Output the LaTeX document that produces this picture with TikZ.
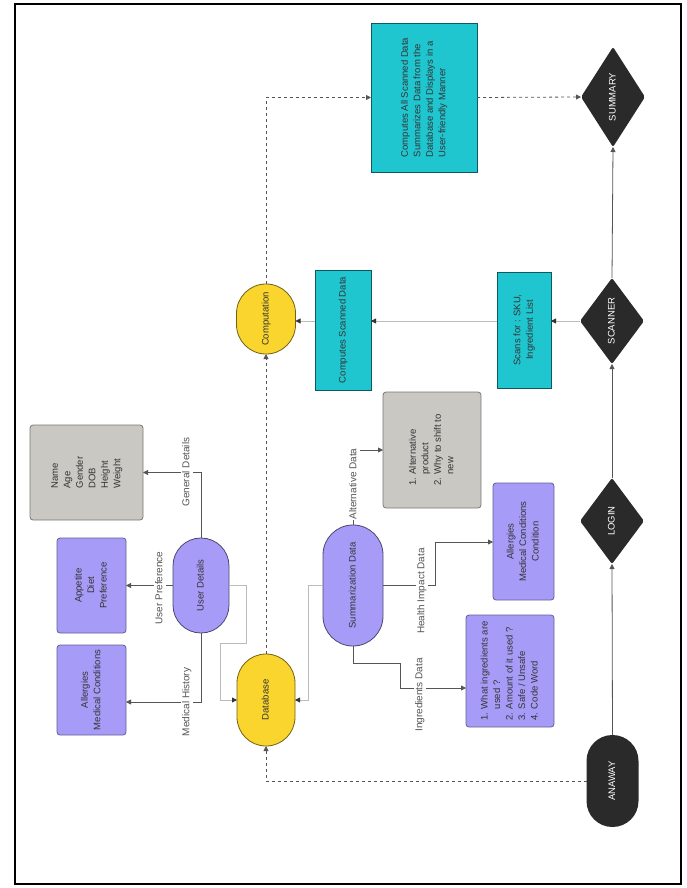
\documentclass[tikz,border=0pt]{standalone}
\usepackage{fontspec}
\setmainfont{Liberation Sans}
\usetikzlibrary{shapes.geometric,arrows.meta}
\definecolor{ylw}{HTML}{FAD52E}
\definecolor{prp}{HTML}{A69CF8}
\definecolor{cyn}{HTML}{1FC6CF}
\definecolor{gry}{HTML}{C9C8C3}
\definecolor{blk}{HTML}{2A2A2A}
\definecolor{txt}{HTML}{333333}
\definecolor{lnk}{HTML}{555555}
\definecolor{lgt}{HTML}{BBBBBB}
\newcommand{\rtx}[2][c]{\rotatebox{90}{\begin{tabular}{@{}#1@{}}#2\end{tabular}}}
\begin{document}
\begin{tikzpicture}[x=1pt,y=-1pt,
  every node/.style={inner sep=0pt,outer sep=0pt,text=txt,font=\fontsize{9.5}{12.5}\selectfont},
  boxr/.style={rectangle,draw=#1!60!black,line width=0.8pt,fill=#1,rounded corners=3pt},
  cbox/.style={rectangle,draw=cyn!45!black,line width=0.8pt,fill=cyn},
  stad/.style={rectangle,draw=#1!45!black,line width=0.8pt,fill=#1},
  dstad/.style={rectangle,fill=blk,text=white},
  dia/.style={diamond,fill=blk,text=white,rounded corners=2pt},
  lbl/.style={fill=white,text=lnk,font=\fontsize{10}{12}\selectfont},
  sarr/.style={draw=lnk,line width=0.8pt,-{Triangle[length=5pt,width=5pt]}},
  larr/.style={draw=lgt,line width=0.8pt,-{Triangle[length=5pt,width=5pt,color=black!80]}},
  darr/.style={draw=lnk,line width=0.8pt,dash pattern=on 3pt off 3pt,-{Triangle[length=5pt,width=5pt]}}
]
\useasboundingbox (0,0) rectangle (686,888);
\draw[line width=1.2pt] (15,4) rectangle (681,884);

% main flow (right column)
\node[dstad,minimum width=52pt,minimum height=92pt,rounded corners=25.9pt] (anaway) at (612.5,781) {\rtx{ANAWAY}};
\node[dia,minimum width=64pt,minimum height=86pt] (login) at (612,521) {\rtx{LOGIN}};
\node[dia,minimum width=64pt,minimum height=86pt] (scanner) at (612,321) {\rtx{SCANNER}};
\node[dia,minimum width=64pt,minimum height=100pt] (summary) at (613,97) {\rtx{SUMMARY}};

% yellow stores
\node[stad=ylw,minimum width=58pt,minimum height=92pt,rounded corners=28.9pt] (db) at (266,700) {\rtx{Database}};
\node[stad=ylw,minimum width=59pt,minimum height=70pt,rounded corners=29.4pt] (comp) at (266,319) {\rtx{Computation}};

% purple stadiums
\node[stad=prp,minimum width=56pt,minimum height=95pt,rounded corners=27.9pt] (ud) at (201,585.5) {\rtx{User Details}};
\node[stad=prp,minimum width=60pt,minimum height=121pt,rounded corners=29.9pt] (sumz) at (353,585.5) {\rtx{Summarization Data}};

% boxes
\node[boxr=gry,minimum width=113pt,minimum height=95pt] (gen) at (86.5,472.5) {\rtx[l]{Name\\Age\\Gender\\DOB\\Height\\Weight}};
\node[boxr=prp,minimum width=69pt,minimum height=95pt] (appet) at (91.5,585.5) {\rtx{Appetite\\Diet\\Preference}};
\node[boxr=prp,minimum width=69pt,minimum height=90pt] (allerg) at (91.5,690) {\rtx{Allergies\\Medical Conditions}};
\node[boxr=gry,minimum width=98pt,minimum height=116pt] (alt) at (432,450) {\rtx[l]{1. Alternative\\\phantom{1. }product\\2. Why to shift to\\\phantom{2. }new}};
\node[boxr=prp,minimum width=61pt,minimum height=117pt] (health) at (523.5,541.5) {\rtx{Allergies\\Medical Conditions\\Condition}};
\node[boxr=prp,minimum width=88pt,minimum height=112pt] (ingr) at (510,671) {\rtx[l]{1. What ingredients are\\\phantom{1. }used ?\\2. Amount of it used ?\\3. Safe / Unsafe\\4. Code Word}};
\node[cbox,minimum width=54pt,minimum height=116pt] (scans) at (524,330) {\rtx{Scans for : SKU,\\Ingredient List}};
\node[cbox,minimum width=56pt,minimum height=120pt] (cscan) at (343,330) {\rtx{Computes Scanned Data}};
\node[cbox,minimum width=106pt,minimum height=149pt] (bigc) at (424,97.5) {\rtx[l]{Computes All Scanned Data\\Summarizes Data from the\\Database and Displays in a\\User-friendly Manner}};

% main flow connectors
\draw[sarr] (anaway.north) -- (login.south);
\draw[sarr] (login.north) -- (scanner.south);
\draw[sarr] (scanner.north) -- (summary.south);
\draw[darr] (anaway.west) -| (db.south);
\draw[darr] (db.north) -- (comp.south);
\draw[darr] (comp.north) |- (bigc.west);
\draw[darr] (bigc.east) -- (summary.west);
\draw[larr] (scanner.west) -- (scans.east |- scanner.west);
\draw[larr] (scans.west |- scanner.west) -- (cscan.east |- scanner.west);
\draw[larr] (cscan.west |- scanner.west) -- (comp.east |- scanner.west);

% user details
\draw[sarr] (ud.north) |- (gen.east);
\draw[sarr] (ud.west) -- (appet.east);
\coordinate (mh) at (201,702);
\draw[sarr] (ud.south) -- (mh) -- (allerg.east |- mh);
\node[lbl] (lgen) at (187,472) {\rtx{General Details}};
\node[lbl] (lpref) at (160,588) {\rtx{User Preference}};
\node[lbl] (lmed) at (187,702) {\rtx{Medical History}};
\coordinate (u1) at (246,585.5);
\coordinate (u2) at (246,643);
\coordinate (u3) at (220,643);
\coordinate (u4) at (220,700);
\draw[larr] (ud.east) -- (u1) -- (u2) -- (u3) -- (u4) -- (db.west);
\coordinate (s1) at (308,585.5);
\coordinate (s2) at (308,700);
\draw[larr] (sumz.west) -- (s1) -- (s2) -- (db.east);

% summarization outputs
\coordinate (i1) at (353,663);
\coordinate (i2) at (400,663);
\coordinate (i3) at (400,688);
\draw[sarr] (sumz.south) -- (i1) -- (i2) -- (i3) -- (ingr.west |- i3);
\coordinate (h1) at (435,585.5);
\coordinate (h2) at (435,542);
\draw[sarr] (sumz.east) -- (h1) -- (h2) -- (health.west |- h2);
\coordinate (a1) at (353,450);
\draw[sarr] (sumz.north) -- (a1) -- (alt.west);
\node[lbl] (ling) at (420,695) {\rtx{Ingredients Data}};
\node[lbl] (lhealth) at (422,591) {\rtx{Health Impact Data}};
\node[lbl] (lalt) at (354,484) {\rtx{Alternative Data}};
\end{tikzpicture}
\end{document}
